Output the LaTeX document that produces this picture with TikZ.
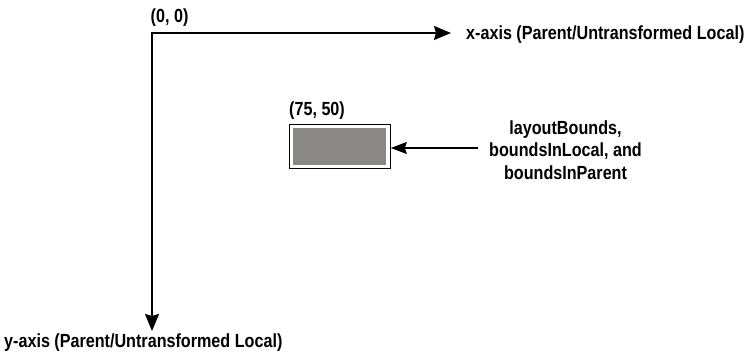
\documentclass[tikz,border=0pt]{standalone}
\usepackage{fontspec}
\setmainfont{Liberation Sans}[FakeStretch=0.85]
\usetikzlibrary{arrows.meta}
\begin{document}
\begin{tikzpicture}[x=1pt,y=-1pt,
  axis/.style={line width=1.8pt,-{Stealth[length=17pt,width=14pt,inset=2pt]}},
  lbl/.style={inner sep=0pt,font=\fontsize{19}{22.5}\selectfont\bfseries},
]
\useasboundingbox (0,0) rectangle (750,354);
\coordinate (O) at (152,33);
\coordinate (X) at (451,33);
\coordinate (Y) at (152,331);
\draw[axis] (151.1,33) -- (X);
\draw[axis] (O) -- (Y);
\node[lbl,anchor=south west] (o) at (150.5,27) {(0, 0)};
\node[lbl,anchor=west] (xl) at (466,35) {x-axis (Parent/Untransformed Local)};
\node[lbl,anchor=north west] (yl) at (4,334) {y-axis (Parent/Untransformed Local)};
\node[draw,line width=1.3pt,minimum width=101pt,minimum height=44pt,inner sep=0pt,anchor=north west] (box) at (288.5,124) {};
\fill[fill={rgb,255:red,138;green,136;blue,135}] (292.5,128) rectangle (386,164.5);
\node[lbl,anchor=south west] (p) at (289,120) {(75, 50)};
\node[lbl,align=center] (t) at (565.5,150) {layoutBounds,\\boundsInLocal, and\\boundsInParent};
\draw[line width=1.3pt,-{Stealth[length=16pt,width=12pt,inset=2pt]}] (478,148) -- (box.east |- 0,148);
\end{tikzpicture}
\end{document}
